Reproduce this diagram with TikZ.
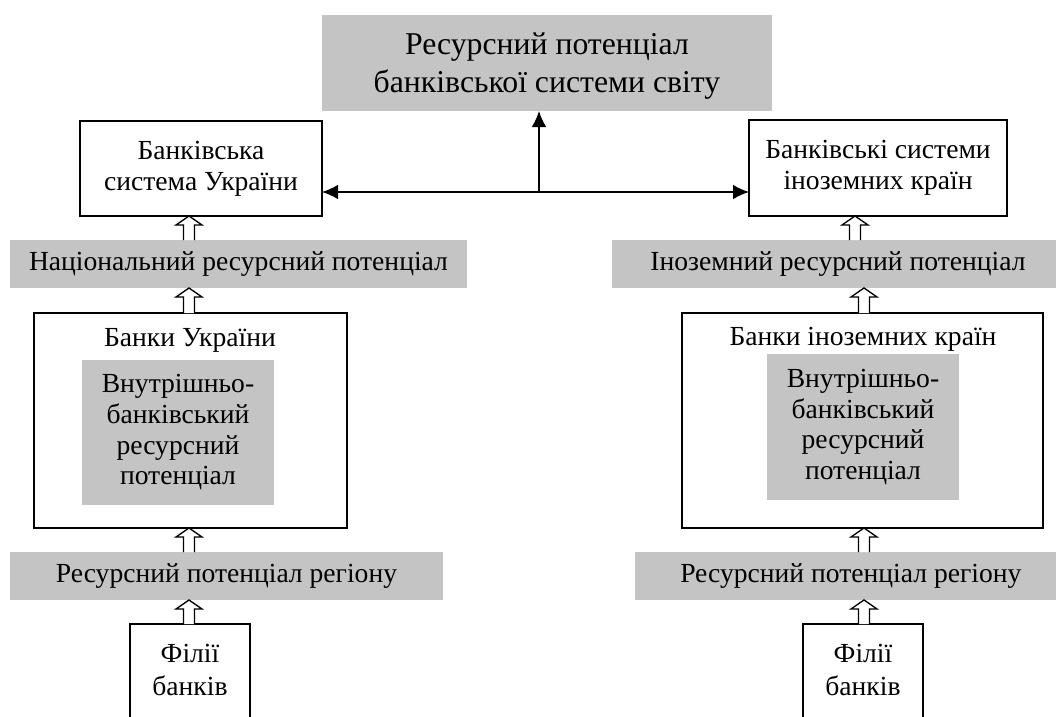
\documentclass[tikz,border=0pt]{standalone}
\usepackage{fontspec}
\setmainfont{Liberation Serif}
\usetikzlibrary{calc,arrows.meta}
\definecolor{bandgray}{RGB}{196,196,196}
\begin{document}
\begin{tikzpicture}[x=0.75pt,y=-0.75pt,
  every node/.style={inner sep=0pt, outer sep=0pt, align=center,
    font=\fontsize{20.7}{23}\selectfont},
  bigtext/.style={font=\fontsize{23.8}{28}\selectfont},
  whitebox/.style={draw=black, line width=1.1pt, fill=white},
  graybox/.style={fill=bandgray},
  sz/.style 2 args={minimum width=#1*0.75pt, minimum height=#2*0.75pt},
  arr/.style={line width=1.1pt, -{Latex[length=12pt,width=11pt]}},
  hollow/.style={line width=1pt, fill=white,
    to path={let \p1=(\tikztostart), \p2=(\tikztotarget) in
      ({\x1-4.1pt},\y1) -- ({\x1-4.1pt},{\y2-6.75pt}) -- ({\x1-9.75pt},{\y2-6.75pt})
      -- (\x1,\y2) -- ({\x1+9.75pt},{\y2-6.75pt}) -- ({\x1+4.1pt},{\y2-6.75pt})
      -- ({\x1+4.1pt},\y1)}}
]
\useasboundingbox (0,0) rectangle (1056,717);
\clip (0,0) rectangle (1056,717);

% top
\node[graybox, sz={450}{96}] (top) at (547,63) {};
\node[bigtext] (toptxt) at (547,66) {Ресурсний потенціал\\банківської системи світу};

% banking systems
\node[whitebox, sz={242}{95}] (sysua) at (201,168.5) {Банківська\\система України};
\node[whitebox, sz={258}{96}] (sysfor) at (878,168) {Банківські системи\\іноземних країн};

% national / foreign potential
\node[graybox, sz={457}{48}] (natband) at (238.5,264) {Національний ресурсний потенціал};
\node[graybox, sz={444}{48}] (forband) at (834,264) {\hspace*{6pt}Іноземний ресурсний потенціал};

% banks
\node[whitebox, sz={313}{215}] (bankua) at (190.5,420.5) {};
\node (ttlua) at (190,340) {Банки України};
\node[graybox, sz={192}{145}] (innerua) at (178,432.5)
  {Внутрішньо-\\банківський\\ресурсний\\потенціал};

\node[whitebox, sz={361}{215}] (bankfor) at (862.5,420.5) {};
\node (ttlfor) at (863,339) {Банки іноземних країн};
\node[graybox, sz={192}{146}] (innerfor) at (863,427)
  {Внутрішньо-\\банківський\\ресурсний\\потенціал};

% regional potential
\node[graybox, sz={433}{48}] (regua) at (226.5,576) {Ресурсний потенціал регіону};
\node[graybox, sz={421}{48}] (regfor) at (845.5,576) {\hspace*{8pt}Ресурсний потенціал регіону};

% branches
\node[whitebox, sz={120}{110}] (filua) at (190,679) {};
\node[font=\fontsize{20.7}{25}\selectfont] (filuat) at (190,670) {Філії\\банків};
\node[whitebox, sz={120}{110}] (filfor) at (863,679) {};
\node[font=\fontsize{20.7}{25}\selectfont] (filfort) at (863,670) {Філії\\банків};

% hollow arrows
\coordinate (cL) at (189,0);
\coordinate (cRt) at (855,0);
\coordinate (cR) at (864,0);
\draw[hollow] (natband.north -| cL) to (sysua.south -| cL);
\draw[hollow] (bankua.north -| cL) to (natband.south -| cL);
\draw[hollow] (regua.north -| cL) to (bankua.south -| cL);
\draw[hollow] (filua.north -| cL) to (regua.south -| cL);

\draw[hollow] (forband.north -| cRt) to (sysfor.south -| cRt);
\draw[hollow] (bankfor.north -| cR) to (forband.south -| cR);
\draw[hollow] (regfor.north -| cR) to (bankfor.south -| cR);
\draw[hollow] (filfor.north -| cR) to (regfor.south -| cR);

% black arrows
\coordinate (jn) at (539,192);
\draw[arr] (jn) -- (top.south -| jn);
\draw[arr] (jn) -- (sysua.east |- jn);
\draw[arr] (jn) -- (sysfor.west |- jn);
\end{tikzpicture}
\end{document}
